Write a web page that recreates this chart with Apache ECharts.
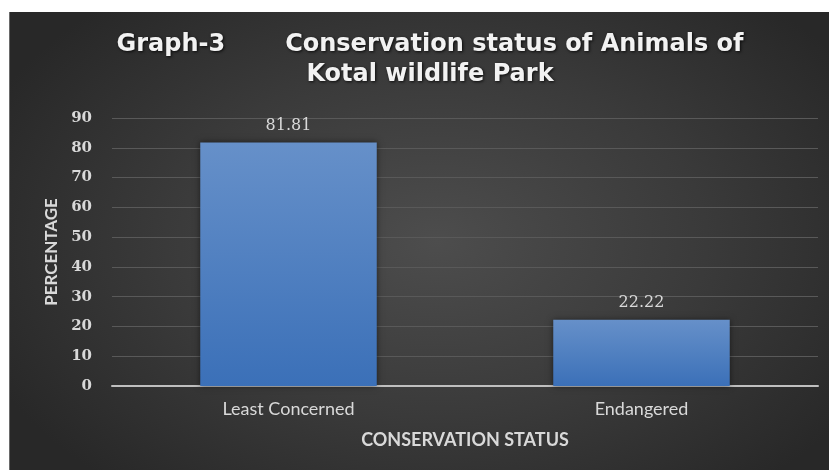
<!DOCTYPE html>
<html>
<head>
<meta charset="utf-8">
<script src="https://cdn.jsdelivr.net/npm/echarts@6/dist/echarts.min.js"></script>
<style>
  * { margin: 0; padding: 0; }
  body { background: #ffffff; width: 829px; height: 470px; overflow: hidden; position: relative; }
  .panel {
    position: absolute; left: 9px; top: 12px; width: 820px; height: 458px;
    background: radial-gradient(ellipse 60% 70% at 52% 50%, #4d4d4d 0%, #3a3a3a 55%, #282828 100%);
    border-left: 1px solid #6a6a6a;
  }
  #chart { position: absolute; left: 0; top: 0; width: 829px; height: 470px; }
</style>
</head>
<body>
<div class="panel"></div>
<div id="chart"></div>
<script>
  // data
  const categories = ['Least Concerned', 'Endangered'];
  const percentValues = [81.81, 22.22];
  const yTicks = { min: 0, max: 90, interval: 10 };

  const chart = echarts.init(document.getElementById('chart'));

  // shared title look (white bold, slight drop shadow)
  const titleFont = {
    fontFamily: 'DejaVu Sans', fontWeight: 'bold', fontSize: 24, color: '#f2f2f2',
    lineHeight: 30,
    textShadowColor: 'rgba(0,0,0,0.8)', textShadowBlur: 3, textShadowOffsetX: 1, textShadowOffsetY: 1,
  };

  const option = {
    backgroundColor: 'transparent',
    title: {
      text: '{a|Graph-3}{b|Conservation status of Animals of}\n{b|Kotal wildlife Park}',
      left: 425,
      top: 25,
      textAlign: 'center',
      textStyle: {
        rich: {
          a: Object.assign({}, titleFont, { padding: [0, 60, 0, 0] }),
          b: titleFont,
        },
      },
    },
    grid: { left: 112, right: 11, top: 118, bottom: 84 },
    xAxis: {
      type: 'category',
      data: categories,
      name: 'CONSERVATION STATUS',
      nameLocation: 'middle',
      nameGap: 45,
      nameTextStyle: { color: '#d9d9d9', fontFamily: 'Lato', fontWeight: 'bold', fontSize: 18, verticalAlign: 'top' },
      axisLine: { lineStyle: { color: '#bfbfbf', width: 2 } },
      axisTick: { show: false },
      axisLabel: { color: '#d9d9d9', fontFamily: 'Lato', fontSize: 18, margin: 14 },
    },
    yAxis: {
      type: 'value',
      min: yTicks.min,
      max: yTicks.max,
      interval: yTicks.interval,
      name: 'PERCENTAGE',
      nameLocation: 'middle',
      nameGap: 52,
      nameTextStyle: { color: '#d9d9d9', fontFamily: 'Lato', fontWeight: 'bold', fontSize: 17 },
      axisLine: { show: false },
      axisTick: { show: false },
      axisLabel: { color: '#d9d9d9', fontFamily: 'DejaVu Serif', fontWeight: 'bold', fontSize: 15, margin: 20 },
      splitLine: { lineStyle: { color: '#595959', width: 1 } },
    },
    series: [
      {
        type: 'bar',
        data: percentValues,
        barWidth: '50%',
        itemStyle: {
          color: new echarts.graphic.LinearGradient(0, 0, 0, 1, [
            { offset: 0, color: '#6690c9' },
            { offset: 1, color: '#3b70b8' },
          ]),
          shadowColor: 'rgba(0,0,0,0.5)',
          shadowBlur: 6,
        },
        label: {
          show: true,
          position: 'top',
          distance: 9,
          color: '#d9d9d9',
          fontFamily: 'DejaVu Serif',
          fontSize: 16,
          formatter: (p) => p.value.toFixed(2),
        },
      },
    ],
  };

  chart.setOption(option);
</script>
</body>
</html>
